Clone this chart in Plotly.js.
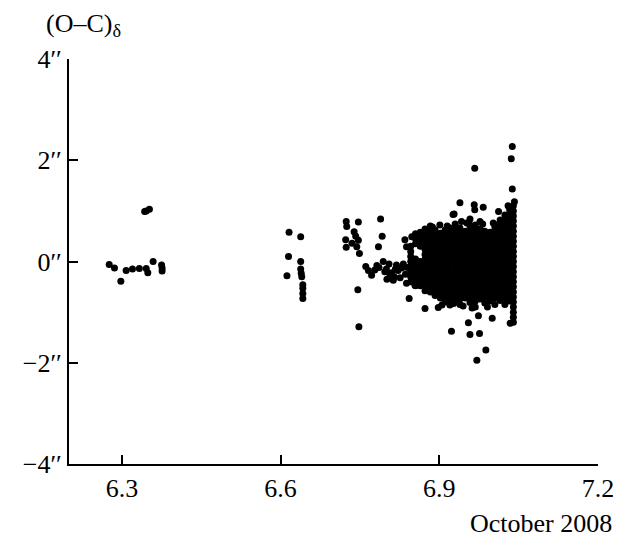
<!DOCTYPE html>
<html>
<head>
<meta charset="utf-8">
<script src="https://cdn.plot.ly/plotly-3.0.1.min.js"></script>
<style>html,body{margin:0;padding:0;background:#fff;}</style>
</head>
<body>
<div id="chart" style="width:623px;height:537px;"></div>
<script>
// ---- data (day of October 2008, (O-C) in declination, arcsec) ----
const leftX = [6.276, 6.286, 6.298, 6.308, 6.320, 6.333, 6.346, 6.349, 6.359, 6.375, 6.376, 6.376, 6.343, 6.346, 6.352];
const leftY = [-0.06, -0.13, -0.39, -0.18, -0.15, -0.14, -0.14, -0.22, 0.00, -0.07, -0.13, -0.19, 0.99, 1.00, 1.03];

const midX = [6.616, 6.615, 6.612, 6.638, 6.638, 6.638, 6.639, 6.640, 6.642, 6.642, 6.642, 6.642];
const midY = [0.58, 0.10, -0.28, 0.49, 0.00, -0.15, -0.23, -0.30, -0.46, -0.53, -0.63, -0.73];

const chainX = [6.724, 6.747, 6.725, 6.739, 6.723, 6.747, 6.724, 6.744, 6.749, 6.742, 6.735, 6.746, 6.748,
                6.789, 6.792, 6.785,
                6.761, 6.772, 6.778, 6.794, 6.797, 6.807, 6.813, 6.819, 6.829, 6.838, 6.848, 6.835, 6.838, 6.854, 6.843,
                6.800, 6.805, 6.810, 6.815, 6.822, 6.826, 6.832, 6.836, 6.840, 6.786, 6.801, 6.817, 6.766, 6.782];
const chainY = [0.79, 0.78, 0.69, 0.59, 0.43, 0.42, 0.28, 0.29, 0.16, 0.50, 0.36, -0.56, -1.29,
                0.84, 0.50, 0.29,
                -0.10, -0.27, -0.17, 0.00, -0.20, -0.27, -0.37, -0.07, -0.13, -0.43, 0.49, 0.43, 0.29, -0.47, -0.73,
                -0.15, -0.05, -0.22, -0.30, -0.18, -0.32, -0.05, -0.25, -0.12, -0.12, -0.35, -0.15, -0.18, -0.08];

const mainColX = [6.846, 6.855, 6.864, 6.873, 6.883, 6.892, 6.902, 6.911, 6.920, 6.930, 6.939,
                  6.949, 6.958, 6.968, 6.977, 6.986, 6.996, 7.005, 7.015, 7.024, 7.033, 7.040];
const mainColY = [
  [0.30, 0.20, 0.10, 0.00, -0.10, -0.20, -0.30, -0.40],
  [0.55, 0.45, 0.35, 0.05, -0.05, -0.15, -0.25, -0.35, -0.48],
  [0.58, 0.48, 0.38, 0.30, 0.00, -0.10, -0.20, -0.30, -0.40, -0.48],
  [0.64, 0.54, 0.44, 0.34, 0.24, 0.14, 0.04, -0.06, -0.16, -0.26, -0.36, -0.46, -0.58],
  [0.70, 0.60, 0.50, 0.40, 0.30, 0.20, 0.10, 0.00, -0.10, -0.20, -0.30, -0.40, -0.50, -0.60],
  [0.62, 0.52, 0.42, 0.32, 0.22, 0.12, 0.02, -0.08, -0.18, -0.28, -0.38, -0.48, -0.58, -0.67],
  [0.56, 0.46, 0.36, 0.26, 0.16, 0.06, -0.04, -0.14, -0.24, -0.34, -0.44, -0.54, -0.64, -0.72],
  [0.62, 0.52, 0.42, 0.32, 0.22, 0.12, 0.02, -0.08, -0.18, -0.28, -0.38, -0.48, -0.58, -0.68, -0.80],
  [0.66, 0.56, 0.46, 0.36, 0.26, 0.16, 0.06, -0.04, -0.14, -0.24, -0.34, -0.44, -0.54, -0.64, -0.74, -0.86],
  [0.74, 0.64, 0.54, 0.44, 0.34, 0.24, 0.14, 0.04, -0.06, -0.16, -0.26, -0.36, -0.46, -0.56, -0.66, -0.76],
  [0.66, 0.56, 0.46, 0.36, 0.26, 0.16, 0.06, -0.04, -0.14, -0.24, -0.34, -0.44, -0.54, -0.64, -0.74, -0.85],
  [0.60, 0.50, 0.40, 0.30, 0.20, 0.10, 0.00, -0.10, -0.20, -0.30, -0.40, -0.50, -0.60, -0.72],
  [0.70, 0.60, 0.50, 0.40, 0.30, 0.20, 0.10, 0.00, -0.10, -0.20, -0.30, -0.40, -0.50, -0.60, -0.70, -0.81],
  [0.72, 0.62, 0.52, 0.42, 0.32, 0.22, 0.12, 0.02, -0.08, -0.18, -0.28, -0.38, -0.48, -0.58, -0.68, -0.78, -0.90],
  [0.64, 0.54, 0.44, 0.34, 0.24, 0.14, 0.04, -0.06, -0.16, -0.26, -0.36, -0.46, -0.56, -0.66, -0.74],
  [0.60, 0.50, 0.40, 0.30, 0.20, 0.10, 0.00, -0.10, -0.20, -0.30, -0.40, -0.50, -0.60, -0.70, -0.82],
  [0.58, 0.48, 0.38, 0.28, 0.18, 0.08, -0.02, -0.12, -0.22, -0.32, -0.42, -0.52, -0.62, -0.72, -0.78],
  [0.68, 0.58, 0.48, 0.38, 0.28, 0.18, 0.08, -0.02, -0.12, -0.22, -0.32, -0.42, -0.52, -0.62, -0.72, -0.85],
  [0.82, 0.72, 0.62, 0.52, 0.42, 0.32, 0.22, 0.12, 0.02, -0.08, -0.18, -0.28, -0.38, -0.48, -0.58, -0.68, -0.77],
  [0.92, 0.82, 0.72, 0.62, 0.52, 0.42, 0.32, 0.22, 0.12, 0.02, -0.08, -0.18, -0.28, -0.38, -0.48, -0.58, -0.68, -0.78, -0.85],
  [1.02, 0.92, 0.82, 0.72, 0.62, 0.52, 0.42, 0.32, 0.22, 0.12, 0.02, -0.08, -0.18, -0.28, -0.38, -0.48, -0.58, -0.68, -0.78],
  [1.10, 1.00, 0.90, 0.80, 0.70, 0.60, 0.50, 0.40, 0.30, 0.20, 0.10, 0.00, -0.10, -0.20, -0.30, -0.40, -0.50, -0.60, -0.70, -0.80, -0.90, -1.00, -1.10, -1.20]
];

const outX = [7.038, 7.036, 6.967, 7.038, 7.042, 6.939, 6.966, 6.983, 6.967, 6.926, 7.012, 6.942, 6.958, 6.977,
              6.911, 6.930, 7.002, 7.030, 7.027, 6.928, 6.887, 6.901, 6.952, 6.956,
              6.971, 6.988, 6.958, 6.976, 6.923, 6.955, 6.974, 7.000, 6.873, 6.898, 6.927, 6.945, 7.034,
              6.905, 6.962, 6.991, 6.915, 6.982, 7.010];
const outY = [2.27, 2.03, 1.84, 1.43, 1.18, 1.16, 1.12, 1.07, 1.02, 0.93, 0.99, 0.79, 0.84, 0.79,
              0.56, 0.69, 0.76, 1.10, 0.89, 0.94, 0.68, 0.72, 0.76, 0.77,
              -1.95, -1.75, -1.44, -1.42, -1.38, -1.21, -1.07, -1.12, -0.93, -0.91, -0.83, -0.88, -1.22,
              -0.86, -0.92, -0.90, 0.70, 0.74, 0.72];

const xTicks = [6.3, 6.6, 6.9, 7.2];
const xTickText = ['6.3', '6.6', '6.9', '7.2'];
const yTicks = [-4, -2, 0, 2, 4];
const yTickText = ['\u22124\u2032\u2032', '\u22122\u2032\u2032', '0\u2032\u2032', '2\u2032\u2032', '4\u2032\u2032'];

// ---- build traces ----
const mainX = [], mainY = [];
mainColX.forEach((cx, i) => { mainColY[i].forEach(v => { mainX.push(cx); mainY.push(v); }); });

const marker = {color: '#000', size: 7, line: {width: 0}};
const mk = (x, y) => ({x, y, type: 'scatter', mode: 'markers', marker, hoverinfo: 'skip'});
const data = [mk(leftX, leftY), mk(midX, midY), mk(chainX, chainY), mk(mainX, mainY), mk(outX, outY)];

const font = {family: '"Liberation Serif", "Times New Roman", Times, serif', size: 26, color: '#000'};
const layout = {
  width: 623, height: 537,
  margin: {l: 69, r: 25, t: 59, b: 73, pad: 0},
  paper_bgcolor: '#fff', plot_bgcolor: '#fff',
  showlegend: false,
  font: font,
  xaxis: {range: [6.2, 7.2], tickmode: 'array', tickvals: xTicks, ticktext: xTickText,
          ticks: 'inside', ticklen: 9, tickwidth: 2, tickcolor: '#000',
          showline: true, linewidth: 2, linecolor: '#000', showgrid: false, zeroline: false,
          tickfont: font, fixedrange: true},
  yaxis: {range: [-4, 4], tickmode: 'array', tickvals: yTicks, ticktext: yTickText,
          ticks: 'inside', ticklen: 9, tickwidth: 2, tickcolor: '#000',
          showline: true, linewidth: 2, linecolor: '#000', showgrid: false, zeroline: false,
          tickfont: font, fixedrange: true},
  annotations: [
    {text: '(O\u2013C)<sub>\u03b4</sub>', xref: 'paper', yref: 'paper', x: -0.047, y: 1.085,
     xanchor: 'left', yanchor: 'middle', showarrow: false, font: font},
    {text: 'October 2008', xref: 'paper', yref: 'paper', x: 1.030, y: -0.148,
     xanchor: 'right', yanchor: 'middle', showarrow: false, font: font}
  ]
};
Plotly.newPlot('chart', data, layout, {displayModeBar: false, staticPlot: true});
</script>
</body>
</html>
